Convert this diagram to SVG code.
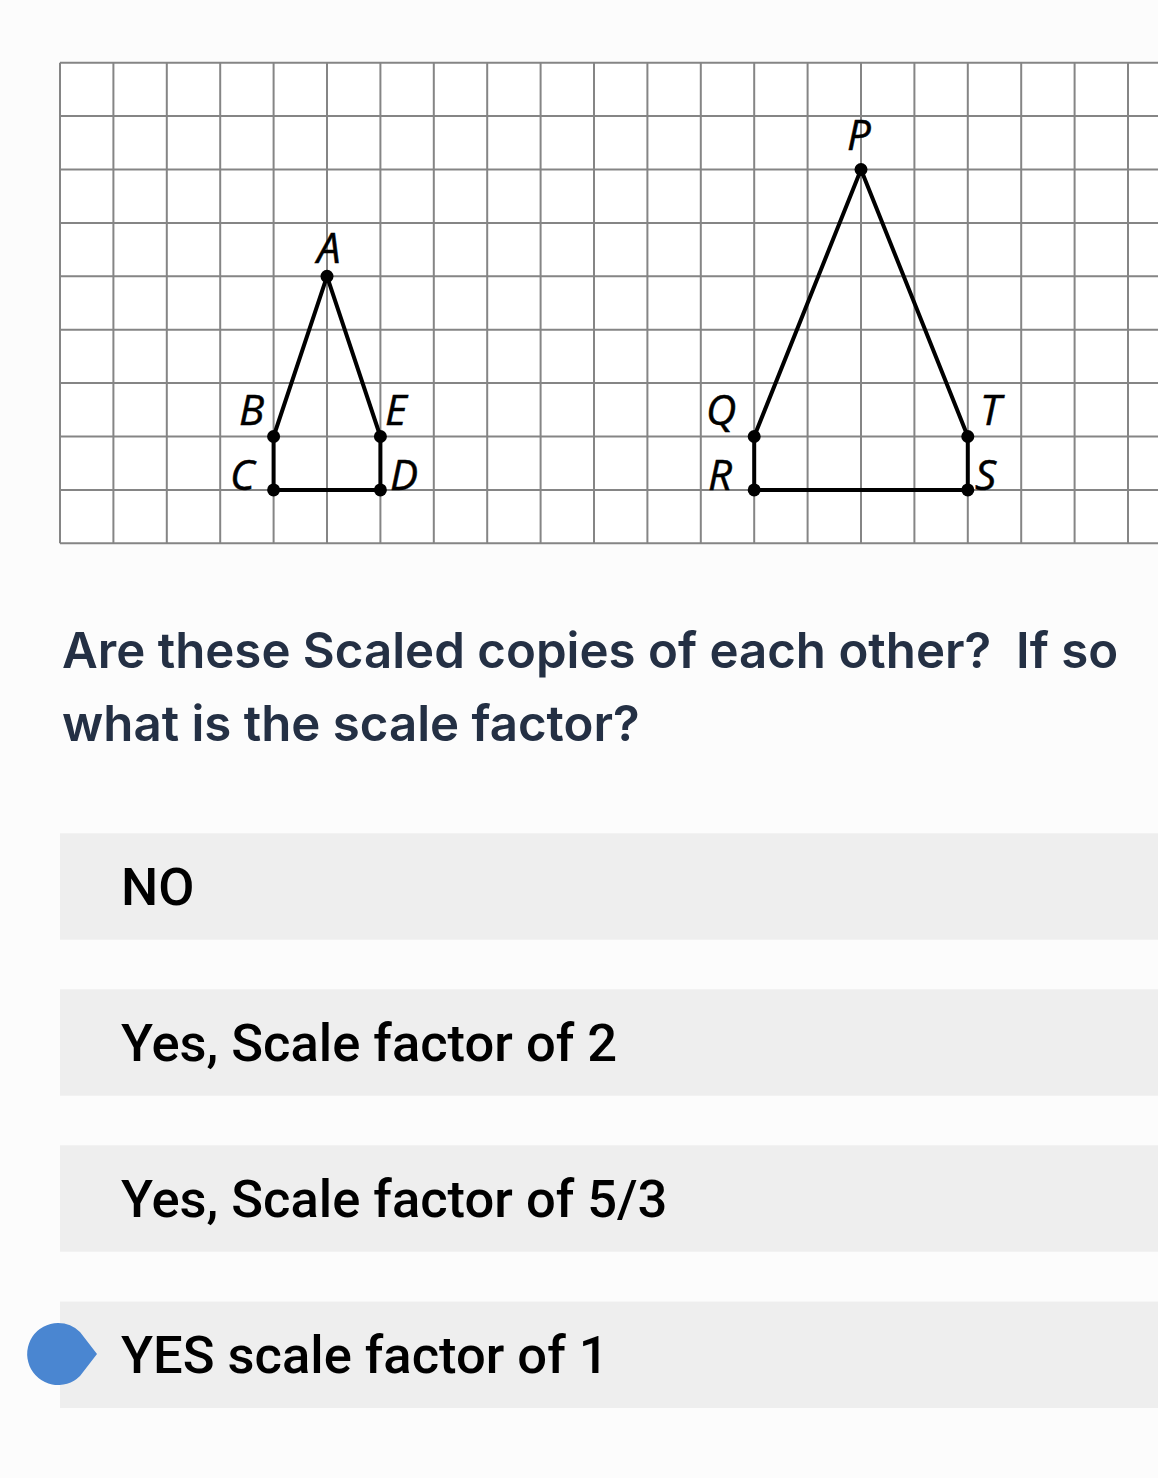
<svg xmlns="http://www.w3.org/2000/svg" width="1158" height="1478" viewBox="0 0 1158 1478">
<style>
.grid line{stroke:#858585;stroke-width:2}
.shape{fill:none;stroke:#000;stroke-width:4;stroke-linejoin:round}
.dot{fill:#000}
.lbl{font-family:"Open Sans","Noto Sans",sans-serif;font-style:italic;font-size:42px;fill:#000;stroke:#000;stroke-width:0.5}
.q{font-family:Inter,"Liberation Sans",sans-serif;font-weight:600;font-size:49.2px;fill:#243044}
.box{fill:#eeeeee}
.opt{font-family:Roboto,"Liberation Sans",sans-serif;font-weight:500;font-size:52.5px;fill:#000}
</style>
<rect width="1158" height="1478" fill="#fcfcfc"/>
<g id="grid" class="grid">
<rect x="60" y="62.7" width="1098" height="480.6" fill="#fff"/>
<line x1="60" y1="62.7" x2="1158" y2="62.7"/>
<line x1="60" y1="116.1" x2="1158" y2="116.1"/>
<line x1="60" y1="169.5" x2="1158" y2="169.5"/>
<line x1="60" y1="222.9" x2="1158" y2="222.9"/>
<line x1="60" y1="276.3" x2="1158" y2="276.3"/>
<line x1="60" y1="329.7" x2="1158" y2="329.7"/>
<line x1="60" y1="383.1" x2="1158" y2="383.1"/>
<line x1="60" y1="436.5" x2="1158" y2="436.5"/>
<line x1="60" y1="489.9" x2="1158" y2="489.9"/>
<line x1="60" y1="543.3" x2="1158" y2="543.3"/>
<line x1="60" y1="62.7" x2="60" y2="543.3"/>
<line x1="113.4" y1="62.7" x2="113.4" y2="543.3"/>
<line x1="166.8" y1="62.7" x2="166.8" y2="543.3"/>
<line x1="220.2" y1="62.7" x2="220.2" y2="543.3"/>
<line x1="273.6" y1="62.7" x2="273.6" y2="543.3"/>
<line x1="327" y1="62.7" x2="327" y2="543.3"/>
<line x1="380.4" y1="62.7" x2="380.4" y2="543.3"/>
<line x1="433.8" y1="62.7" x2="433.8" y2="543.3"/>
<line x1="487.2" y1="62.7" x2="487.2" y2="543.3"/>
<line x1="540.6" y1="62.7" x2="540.6" y2="543.3"/>
<line x1="594" y1="62.7" x2="594" y2="543.3"/>
<line x1="647.4" y1="62.7" x2="647.4" y2="543.3"/>
<line x1="700.8" y1="62.7" x2="700.8" y2="543.3"/>
<line x1="754.2" y1="62.7" x2="754.2" y2="543.3"/>
<line x1="807.6" y1="62.7" x2="807.6" y2="543.3"/>
<line x1="861" y1="62.7" x2="861" y2="543.3"/>
<line x1="914.4" y1="62.7" x2="914.4" y2="543.3"/>
<line x1="967.8" y1="62.7" x2="967.8" y2="543.3"/>
<line x1="1021.2" y1="62.7" x2="1021.2" y2="543.3"/>
<line x1="1074.6" y1="62.7" x2="1074.6" y2="543.3"/>
<line x1="1128" y1="62.7" x2="1128" y2="543.3"/>
</g>
<g id="small-figure">
<polygon class="shape" points="327,276.3 380.4,436.5 380.4,489.9 273.6,489.9 273.6,436.5"/>
<circle class="dot" cx="327" cy="276.3" r="6.5"/>
<circle class="dot" cx="273.6" cy="436.5" r="6.5"/>
<circle class="dot" cx="380.4" cy="436.5" r="6.5"/>
<circle class="dot" cx="273.6" cy="489.9" r="6.5"/>
<circle class="dot" cx="380.4" cy="489.9" r="6.5"/>
<text class="lbl" x="317" y="263">A</text>
<text class="lbl" x="239" y="425">B</text>
<text class="lbl" x="385" y="425">E</text>
<text class="lbl" x="230" y="490">C</text>
<text class="lbl" x="390" y="490">D</text>
</g>
<g id="large-figure">
<polygon class="shape" points="861,169.5 967.8,436.5 967.8,489.9 754.2,489.9 754.2,436.5"/>
<circle class="dot" cx="861" cy="169.5" r="6.5"/>
<circle class="dot" cx="754.2" cy="436.5" r="6.5"/>
<circle class="dot" cx="967.8" cy="436.5" r="6.5"/>
<circle class="dot" cx="754.2" cy="489.9" r="6.5"/>
<circle class="dot" cx="967.8" cy="489.9" r="6.5"/>
<text class="lbl" x="847" y="150">P</text>
<text class="lbl" x="706" y="425">Q</text>
<text class="lbl" x="980" y="425">T</text>
<text class="lbl" x="708" y="490">R</text>
<text class="lbl" x="975" y="490">S</text>
</g>
<g id="question">
<text class="q" x="62" y="668" xml:space="preserve">Are these Scaled copies of each other?  If so</text>
<text class="q" x="62" y="741">what is the scale factor?</text>
</g>
<g id="option-1">
<rect class="box" x="60" y="833.3" width="1098" height="106.4"/>
<text class="opt" x="121" y="905">NO</text>
</g>
<g id="option-2">
<rect class="box" x="60" y="989.3" width="1098" height="106.4"/>
<text class="opt" x="121" y="1061">Yes, Scale factor of 2</text>
</g>
<g id="option-3">
<rect class="box" x="60" y="1145.3" width="1098" height="106.4"/>
<text class="opt" x="121" y="1217">Yes, Scale factor of 5/3</text>
</g>
<g id="option-4">
<rect class="box" x="60" y="1301.6" width="1098" height="106.4"/>
<path d="M58,1323 A31,31 0 1 0 80,1376 L97,1354 L80,1332 A31,31 0 0 0 58,1323 Z" fill="#4a86d1"/>
<text class="opt" x="121" y="1373">YES scale factor of 1</text>
</g>
</svg>
